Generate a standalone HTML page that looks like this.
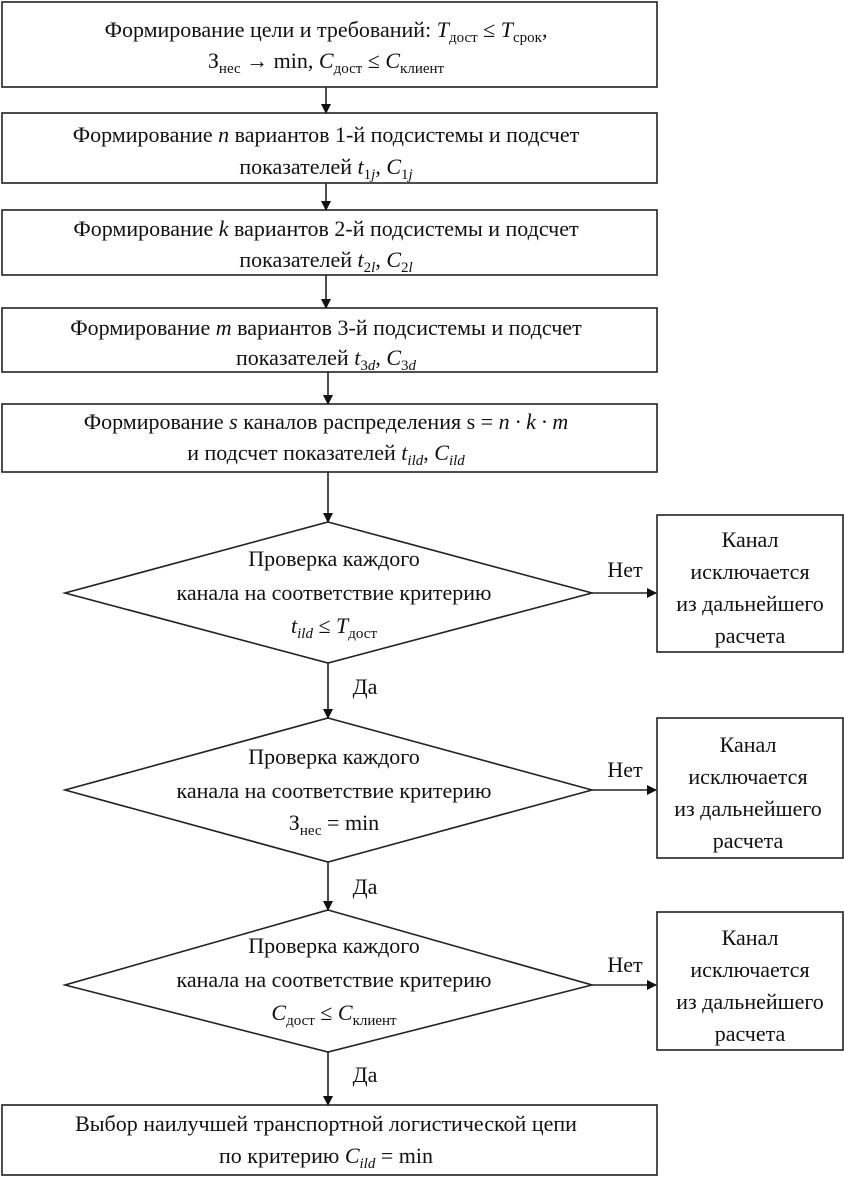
<!DOCTYPE html>
<html><head><meta charset="utf-8"><style>
html,body{margin:0;padding:0;background:#fff;}
svg{display:block;}
text{font-family:"Liberation Serif",serif;font-size:22px;fill:#111;}
.s{font-size:15px;}
</style></head><body>
<svg width="844" height="1177" viewBox="0 0 844 1177" xmlns="http://www.w3.org/2000/svg">
<defs><marker id="a" markerWidth="10" markerHeight="10" refX="9" refY="5" orient="auto" markerUnits="userSpaceOnUse"><path d="M0,0 L10,5 L0,10 z" fill="#111"/></marker></defs>
<g fill="none" stroke="#222" stroke-width="1.6">
<rect x="2" y="2" width="655" height="85"/>
<rect x="2" y="113" width="655" height="70"/>
<rect x="2" y="210" width="655" height="65"/>
<rect x="2" y="308" width="655" height="64"/>
<rect x="2" y="404" width="655" height="68"/>
<polygon points="328,522 592,593 328,663 65,593"/>
<polygon points="328,718 592,790 328,862 65,790"/>
<polygon points="328,910 592,985 328,1052 65,985"/>
<rect x="657" y="515" width="186" height="137"/>
<rect x="657" y="718" width="186" height="140"/>
<rect x="657" y="912" width="186" height="138"/>
<rect x="2" y="1105" width="655" height="70"/>
<g marker-end="url(#a)">
<line x1="326" y1="87" x2="326" y2="113"/>
<line x1="326" y1="183" x2="326" y2="210"/>
<line x1="326" y1="275" x2="326" y2="308"/>
<line x1="328" y1="372" x2="328" y2="404"/>
<line x1="328" y1="472" x2="328" y2="522"/>
<line x1="328" y1="663" x2="328" y2="718"/>
<line x1="328" y1="862" x2="328" y2="910"/>
<line x1="328" y1="1052" x2="328" y2="1105"/>
<line x1="592" y1="593" x2="656" y2="593"/>
<line x1="592" y1="790" x2="656" y2="790"/>
<line x1="592" y1="985" x2="656" y2="985"/>
</g></g>
<g text-anchor="middle">
<text x="326" y="37">Формирование цели и требований: <tspan font-style="italic">T</tspan><tspan class="s" dy="5">дост</tspan><tspan dy="-5"> ≤ </tspan><tspan font-style="italic">T</tspan><tspan class="s" dy="5">срок</tspan><tspan dy="-5">,</tspan></text>
<text x="326" y="68">З<tspan class="s" dy="5">нес</tspan><tspan dy="-5"> → min, </tspan><tspan font-style="italic">C</tspan><tspan class="s" dy="5">дост</tspan><tspan dy="-5"> ≤ </tspan><tspan font-style="italic">C</tspan><tspan class="s" dy="5">клиент</tspan></text>
<text x="326" y="142">Формирование <tspan font-style="italic">n</tspan> вариантов 1-й подсистемы и подсчет</text>
<text x="326" y="174">показателей <tspan font-style="italic">t</tspan><tspan class="s" dy="5">1<tspan font-style="italic">j</tspan></tspan><tspan dy="-5">, </tspan><tspan font-style="italic">C</tspan><tspan class="s" dy="5">1<tspan font-style="italic">j</tspan></tspan></text>
<text x="326" y="236">Формирование <tspan font-style="italic">k</tspan> вариантов 2-й подсистемы и подсчет</text>
<text x="326" y="267">показателей <tspan font-style="italic">t</tspan><tspan class="s" dy="5">2<tspan font-style="italic">l</tspan></tspan><tspan dy="-5">, </tspan><tspan font-style="italic">C</tspan><tspan class="s" dy="5">2<tspan font-style="italic">l</tspan></tspan></text>
<text x="326" y="335">Формирование <tspan font-style="italic">m</tspan> вариантов 3-й подсистемы и подсчет</text>
<text x="326" y="365">показателей <tspan font-style="italic">t</tspan><tspan class="s" dy="5">3<tspan font-style="italic">d</tspan></tspan><tspan dy="-5">, </tspan><tspan font-style="italic">C</tspan><tspan class="s" dy="5">3<tspan font-style="italic">d</tspan></tspan></text>
<text x="326" y="429">Формирование <tspan font-style="italic">s</tspan> каналов распределения s = <tspan font-style="italic">n · k · m</tspan></text>
<text x="326" y="460">и подсчет показателей <tspan font-style="italic">t</tspan><tspan class="s" font-style="italic" dy="5">ild</tspan><tspan dy="-5">, </tspan><tspan font-style="italic">C</tspan><tspan class="s" font-style="italic" dy="5">ild</tspan></text>

<text x="334" y="566">Проверка каждого</text>
<text x="334" y="600">канала на соответствие критерию</text>
<text x="334" y="633"><tspan font-style="italic">t</tspan><tspan class="s" font-style="italic" dy="5">ild</tspan><tspan dy="-5"> ≤ </tspan><tspan font-style="italic">T</tspan><tspan class="s" dy="5">дост</tspan></text>
<text x="334" y="764">Проверка каждого</text>
<text x="334" y="798">канала на соответствие критерию</text>
<text x="334" y="830">З<tspan class="s" dy="5">нес</tspan><tspan dy="-5"> = min</tspan></text>
<text x="334" y="953">Проверка каждого</text>
<text x="334" y="987">канала на соответствие критерию</text>
<text x="334" y="1020"><tspan font-style="italic">C</tspan><tspan class="s" dy="5">дост</tspan><tspan dy="-5"> ≤ </tspan><tspan font-style="italic">C</tspan><tspan class="s" dy="5">клиент</tspan></text>

<text x="750" y="547">Канал</text><text x="750" y="579">исключается</text><text x="750" y="611">из дальнейшего</text><text x="750" y="643">расчета</text>
<text x="748" y="752">Канал</text><text x="748" y="784">исключается</text><text x="748" y="816">из дальнейшего</text><text x="748" y="848">расчета</text>
<text x="750" y="945">Канал</text><text x="750" y="977">исключается</text><text x="750" y="1009">из дальнейшего</text><text x="750" y="1041">расчета</text>

<text x="625" y="577">Нет</text>
<text x="625" y="777">Нет</text>
<text x="625" y="972">Нет</text>
<text x="365" y="694">Да</text>
<text x="365" y="894">Да</text>
<text x="365" y="1082">Да</text>

<text x="326" y="1131">Выбор наилучшей транспортной логистической цепи</text>
<text x="326" y="1163">по критерию <tspan font-style="italic">C</tspan><tspan class="s" font-style="italic" dy="5">ild</tspan><tspan dy="-5"> = min</tspan></text>
</g>
</svg>
</body></html>
